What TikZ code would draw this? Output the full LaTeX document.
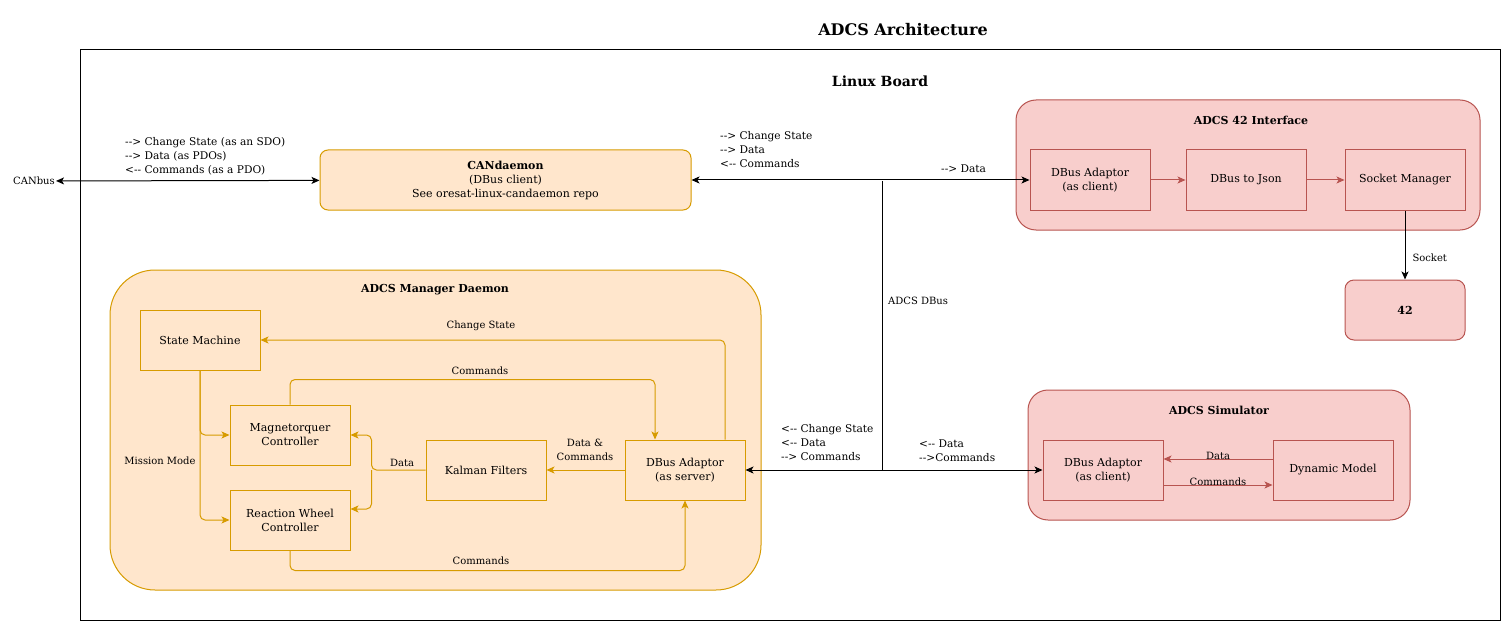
\documentclass[tikz,border=0pt]{standalone}
\usepackage{fontspec}
\setmainfont{DejaVu Serif}
\usetikzlibrary{arrows.meta, positioning, calc}
\definecolor{orgfill}{HTML}{FFE6CC}
\definecolor{orgline}{HTML}{D79B00}
\definecolor{redfill}{HTML}{F8CECC}
\definecolor{redline}{HTML}{B85450}
\newcommand{\toR}{-{}->}
\newcommand{\toL}{<-{}-}
\tikzset{
  orgblock/.style={draw=orgline, fill=orgfill, line width=1pt, minimum width=120pt, minimum height=60pt, align=center, inner sep=0pt},
  redblock/.style={draw=redline, fill=redfill, line width=1pt, minimum width=120pt, minimum height=60pt, align=center, inner sep=0pt},
  grouptitle/.style={font=\fontsize{11}{13}\selectfont\bfseries},
  lbl/.style={font=\fontsize{10}{14}\selectfont, align=left, inner sep=1pt},
  buslbl/.style={lbl, anchor=west, font=\fontsize{10.6}{14}\selectfont},
  orgedge/.style={draw=orgline, line width=1pt, rounded corners=5pt, -{Stealth[length=8pt, width=7pt, inset=2pt]}},
  rededge/.style={draw=redline, line width=1pt, -{Stealth[length=8pt, width=7pt, inset=2pt]}},
  blkedge/.style={draw=black, line width=1pt, -{Stealth[length=8pt, width=7pt, inset=2pt]}},
  dbledge/.style={draw=black, line width=1pt, {Stealth[length=8pt, width=7pt, inset=2pt]}-{Stealth[length=8pt, width=7pt, inset=2pt]}}
}

\begin{document}
\begin{tikzpicture}[x=1pt, y=-1pt, font=\fontsize{11}{14}\selectfont]
  \useasboundingbox (0,0) rectangle (1511,631);

  % Title and board
  \node[font=\fontsize{16}{19}\selectfont\bfseries] (title) at (903,30) {ADCS Architecture};
  \node[draw, line width=1pt, minimum width=1420pt, minimum height=570pt] (board) at (790,335) {};
  \node[font=\fontsize{14}{17}\selectfont\bfseries] (boardtitle) at (880,81) {Linux Board};

  % CANdaemon
  \node[orgblock, rounded corners=8pt, minimum width=371pt] (cand) at (505.5,180)
    {\textbf{CANdaemon}\\(DBus client)\\See oresat-linux-candaemon repo};
  \node[lbl] (canbus) at (34,181) {CANbus};
  \draw[dbledge] (canbus) -- (cand);
  \node[buslbl] (canlbl) at (124,156)
    {\toR{} Change State (as an SDO)\\\toR{} Data (as PDOs)\\\toL{} Commands (as a PDO)};

  % ADCS 42 Interface (right, top)
  \node[redblock, rounded corners=20pt, minimum width=464pt, minimum height=130pt] (ifgrp) at (1248,165) {};
  \node[grouptitle] (iftitle) at (1251,120) {ADCS 42 Interface};
  \node[redblock] (ifdb) at (1090,180) {DBus Adaptor\\(as client)};
  \node[redblock] (ifjson) at (1246,180) {DBus to Json};
  \node[redblock] (sock) at (1405,180) {Socket Manager};
  \node[redblock, rounded corners=9pt] (ft) at (1405,310) {\textbf{42}};
  \draw[rededge] (ifdb) -- (ifjson);
  \draw[rededge] (ifjson) -- (sock);
  \draw[blkedge] (sock) -- (ft) node[lbl, pos=0.68, right=6pt] {Socket};

  % ADCS Manager Daemon (left, bottom)
  \node[orgblock, rounded corners=45pt, minimum width=651pt, minimum height=320pt] (mgr) at (435.5,430) {};
  \node[grouptitle] (mgrtitle) at (435,290) {ADCS Manager Daemon};
  \node[orgblock] (sm) at (200,340) {State Machine};
  \node[orgblock] (mag) at (290,435) {Magnetorquer\\Controller};
  \node[orgblock] (rw) at (290,520) {Reaction Wheel\\Controller};
  \node[orgblock] (kal) at (486,470) {Kalman Filters};
  \node[orgblock] (dbs) at (685,470) {DBus Adaptor\\(as server)};

  \draw[orgedge] ([xshift=40pt]dbs.north) |- (sm.east);
  \node[lbl] (cslbl) at (481,326) {Change State};
  \draw[orgedge] (mag.north) -- ++(0,-25) -| ([xshift=-30pt]dbs.north);
  \node[lbl] (cmdlbl1) at (480,371) {Commands};
  \draw[orgedge] (sm.south) |- (mag.west);
  \draw[orgedge] (sm.south) |- (rw.west);
  \node[lbl] (mmlbl) at (160,461) {Mission Mode};
  \draw[orgedge] (kal.west) -- ++(-54,0) coordinate (dj) |- (mag.east);
  \draw[orgedge] (dj) |- ([yshift=11pt]rw.east);
  \node[lbl] (datalbl) at (402,463) {Data};
  \draw[orgedge] (dbs.west) -- (kal.east);
  \node[lbl, align=center] (dclbl) at (585,450) {Data \&\\Commands};
  \draw[orgedge] (rw.south) -- ++(0,20) -| (dbs.south);
  \node[lbl] (cmdlbl2) at (481,561) {Commands};

  % ADCS Simulator (right, bottom)
  \node[redblock, rounded corners=20pt, minimum width=382pt, minimum height=130pt] (simgrp) at (1219,455) {};
  \node[grouptitle] (simtitle) at (1219,410) {ADCS Simulator};
  \node[redblock] (simdb) at (1103,470) {DBus Adaptor\\(as client)};
  \node[redblock] (dyn) at (1333,470) {Dynamic Model};
  \draw[rededge] ([yshift=11pt]dyn.west) -- ([yshift=11pt]simdb.east)
    node[lbl, midway, above=-2pt] {Data};
  \draw[rededge] ([yshift=-15pt]simdb.east) -- ([yshift=-15pt]dyn.west)
    node[lbl, midway, above=-2pt] {Commands};

  % ADCS DBus
  \coordinate (bustop) at (882,181);
  \coordinate (busbot) at (882,470);
  \draw[dbledge] (cand.east) -- (ifdb.west);
  \draw[line width=1pt] (bustop) -- (busbot);
  \draw[dbledge] (dbs.east) -- (simdb.west);
  \node[lbl, anchor=west] (buslbl) at (887,301) {ADCS DBus};
  \node[buslbl] (toplbl) at (719,150) {\toR{} Change State\\\toR{} Data\\\toL{} Commands};
  \node[buslbl] (ifdlbl) at (940,169) {\toR{} Data};
  \node[buslbl] (botlbl) at (780,443) {\toL{} Change State\\\toL{} Data\\\toR{} Commands};
  \node[buslbl] (simlbl) at (918,451) {\toL{} Data\\-{}->Commands};
\end{tikzpicture}
\end{document}
